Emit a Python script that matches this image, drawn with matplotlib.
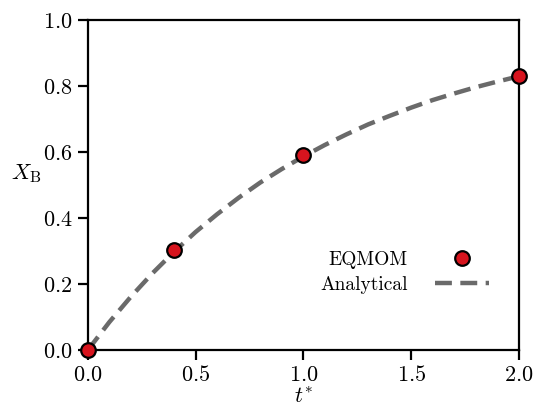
import matplotlib
matplotlib.use('Agg')
import matplotlib.pyplot as plt

# EQMOM results
t_eqmom = [0.0, 0.4, 1.0, 2.0]
xb_eqmom = [0.0, 0.305, 0.59, 0.832]

# analytical curve
t_ana = [0.0, 0.1, 0.2, 0.3, 0.4, 0.5, 0.6, 0.7, 0.8, 0.9, 1.0,
         1.1, 1.2, 1.3, 1.4, 1.5, 1.6, 1.7, 1.8, 1.9, 2.0]
xb_ana = [0.0, 0.085, 0.162, 0.233, 0.298, 0.358, 0.412, 0.462, 0.508, 0.549, 0.587,
          0.622, 0.654, 0.684, 0.710, 0.735, 0.758, 0.778, 0.797, 0.814, 0.830]

plt.rcParams['font.family'] = ['cmr10']
plt.rcParams['mathtext.fontset'] = 'cm'
plt.rcParams['axes.formatter.use_mathtext'] = True

fig, ax = plt.subplots(figsize=(5.35, 4.12), dpi=100)
fig.subplots_adjust(left=0.164, right=0.970, bottom=0.150, top=0.951)

ax.plot(t_eqmom, xb_eqmom, 'o', color='#d7141e', markeredgecolor='black',
        markeredgewidth=1.6, markersize=10.5, label='EQMOM', zorder=5, clip_on=False)
ax.plot(t_ana, xb_ana, '--', color='#6a6a6a', linewidth=3.2, dashes=(3.8, 1.9),
        label='Analytical', zorder=3)

ax.set_xlim(0, 2)
ax.set_ylim(0, 1)
ax.set_xticks([0.0, 0.5, 1.0, 1.5, 2.0])
ax.set_yticks([0.0, 0.2, 0.4, 0.6, 0.8, 1.0])
ax.tick_params(direction='out', length=7, width=1.6, labelsize=16, pad=4)
for s in ax.spines.values():
    s.set_linewidth(1.6)

ax.set_xlabel('$t^{*}$', fontsize=16, labelpad=1)
ax.set_ylabel(r'$X_{\mathrm{B}}$', fontsize=16, rotation=0, labelpad=12)

ax.legend(frameon=False, markerfirst=False, fontsize=14, loc='lower right',
          bbox_to_anchor=(0.972, 0.118), handlelength=2.8, labelspacing=0.35,
          handletextpad=1.4)

fig.savefig('out.png', dpi=100)
